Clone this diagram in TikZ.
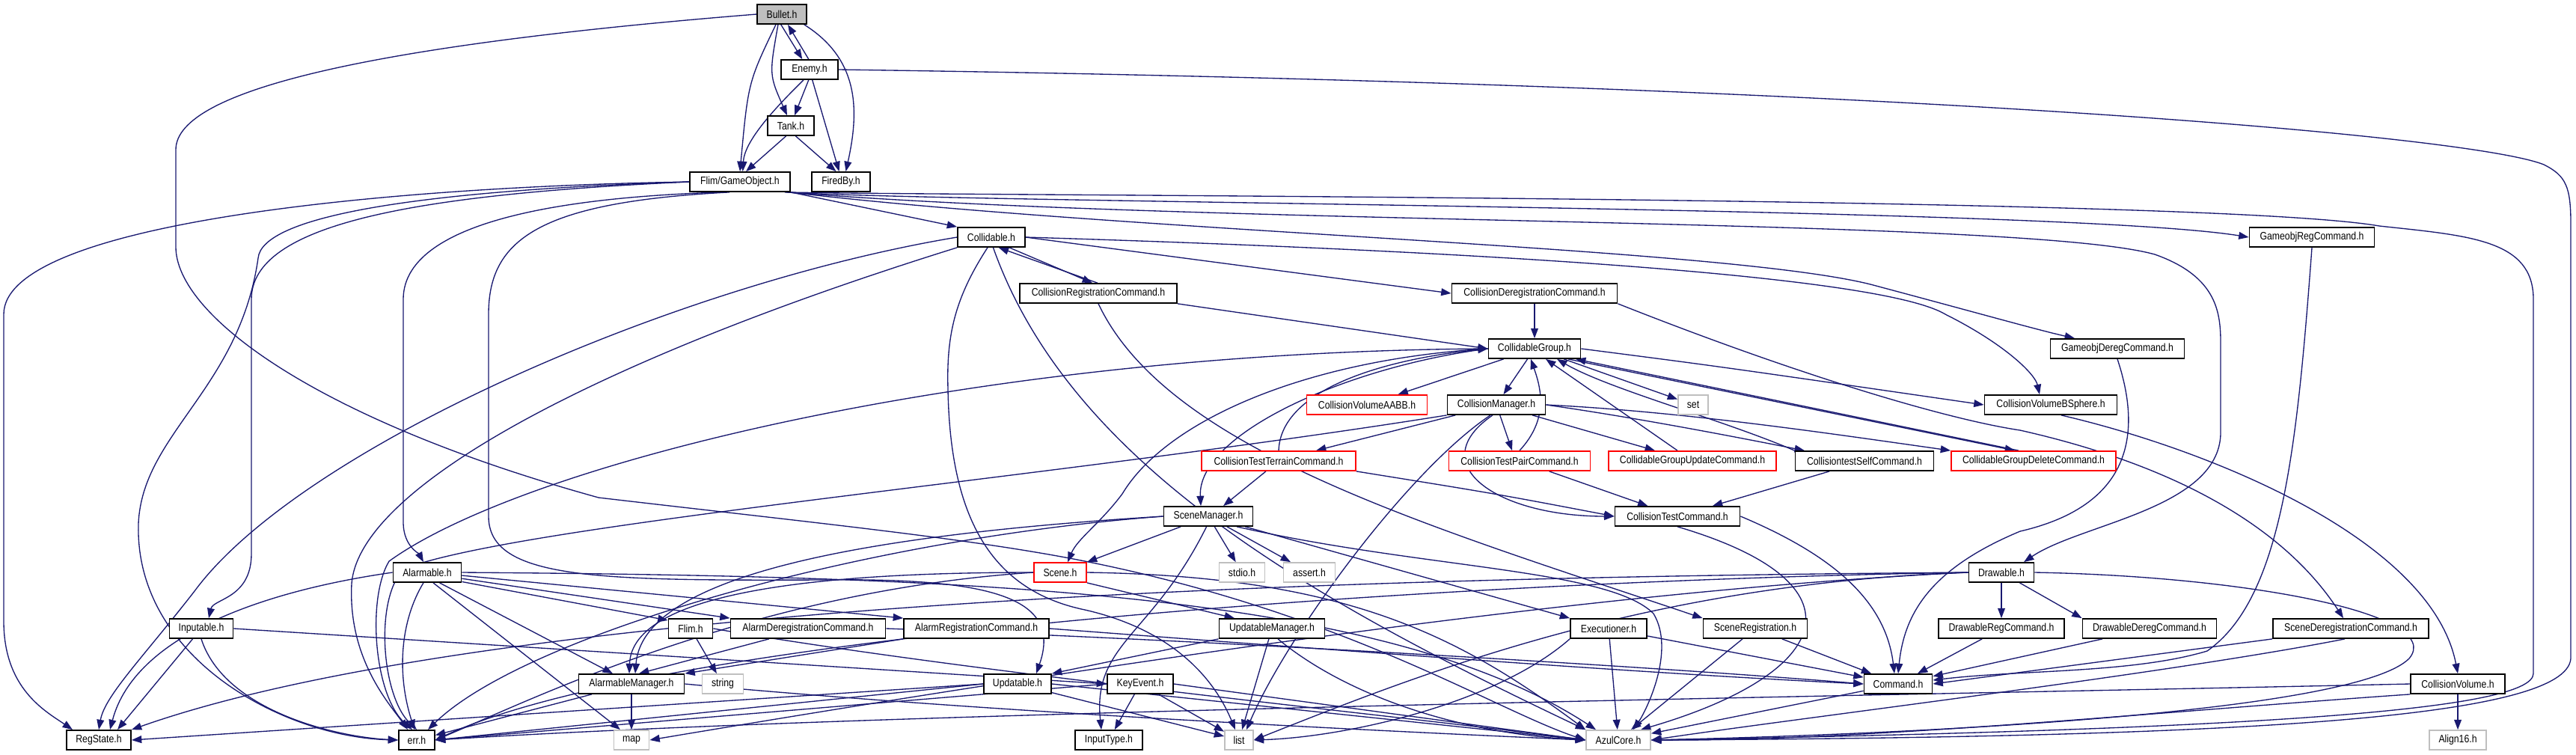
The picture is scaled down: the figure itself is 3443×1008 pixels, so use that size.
\documentclass[tikz,border=0pt]{standalone}
\usepackage{fontspec}
\setmainfont{Liberation Sans}[FakeStretch=0.85]
\usetikzlibrary{arrows.meta,backgrounds}
\definecolor{edgeblue}{HTML}{191970}
\definecolor{sysgray}{HTML}{BFBFBF}

\tikzset{
  hdr/.style={draw=black, fill=white, line width=0.5pt, minimum height=0.26cm,
    inner xsep=1pt, inner ysep=0pt, font=\fontsize{4.1}{5}\selectfont},
  hdrred/.style={hdr, draw=red},
  hdrsys/.style={hdr, draw=sysgray},
  hdrmain/.style={hdr, fill=sysgray},
  dep/.style={draw=edgeblue, line width=0.38pt, -{Triangle[length=3.8pt,width=2.8pt]}},
}

\begin{document}
\begin{tikzpicture}[x=0.01cm, y=-0.01cm]
\useasboundingbox (0,0) rectangle (3443,1008);

% headers, row by row
\node[hdrmain, minimum width=0.66cm] (bullet) at (1045,19) {Bullet.h};
\node[hdr, minimum width=0.76cm] (enemy) at (1082,93) {Enemy.h};
\node[hdr, minimum width=0.62cm] (tank) at (1057,168) {Tank.h};
\node[hdr, minimum width=1.34cm] (gameobj) at (989,243) {Flim/GameObject.h};
\node[hdr, minimum width=0.78cm] (firedby) at (1124,243) {FiredBy.h};
\node[hdr, minimum width=0.90cm] (collidable) at (1325,317) {Collidable.h};
\node[hdr, minimum width=1.67cm] (gameobjreg) at (3090,317) {GameobjRegCommand.h};
\node[hdr, minimum width=2.10cm] (collreg) at (1468,392) {CollisionRegistrationCommand.h};
\node[hdr, minimum width=2.21cm] (colldereg) at (2051,392) {CollisionDeregistrationCommand.h};
\node[hdr, minimum width=1.23cm] (collgroup) at (2051,466) {CollidableGroup.h};
\node[hdr, minimum width=1.79cm] (gameobjdereg) at (2830,466) {GameobjDeregCommand.h};
\node[hdrred, minimum width=1.61cm] (aabb) at (1827,541) {CollisionVolumeAABB.h};
\node[hdr, minimum width=1.31cm] (collmgr) at (2000,541) {CollisionManager.h};
\node[hdrsys, minimum width=0.40cm] (set) at (2263,541) {set};
\node[hdr, minimum width=1.77cm] (bsphere) at (2741,541) {CollisionVolumeBSphere.h};
\node[hdrred, minimum width=2.06cm] (terrain) at (1709,616) {CollisionTestTerrainCommand.h};
\node[hdrred, minimum width=1.89cm] (pair) at (2031,616) {CollisionTestPairCommand.h};
\node[hdrred, minimum width=2.24cm] (groupupd) at (2262,616) {CollidableGroupUpdateCommand.h};
\node[hdr, minimum width=1.85cm] (testself) at (2492,616) {CollisiontestSelfCommand.h};
\node[hdrred, minimum width=2.20cm] (groupdel) at (2718,616) {CollidableGroupDeleteCommand.h};
\node[hdr, minimum width=1.19cm] (scenemgr) at (1615,690) {SceneManager.h};
\node[hdr, minimum width=1.67cm] (colltest) at (2242,690) {CollisionTestCommand.h};
\node[hdr, minimum width=0.91cm] (alarmable) at (571,765) {Alarmable.h};
\node[hdrred, minimum width=0.70cm] (scene) at (1417,765) {Scene.h};
\node[hdrsys, minimum width=0.61cm] (stdio) at (1660,765) {stdio.h};
\node[hdrsys, minimum width=0.69cm] (assert) at (1750,765) {assert.h};
\node[hdr, minimum width=0.87cm] (drawable) at (2675,765) {Drawable.h};
\node[hdr, minimum width=0.85cm] (inputable) at (269,840) {Inputable.h};
\node[hdr, minimum width=0.59cm] (flimh) at (923,840) {Flim.h};
\node[hdr, minimum width=2.07cm] (alarmdereg) at (1080,840) {AlarmDeregistrationCommand.h};
\node[hdr, minimum width=1.94cm] (alarmreg) at (1305,840) {AlarmRegistrationCommand.h};
\node[hdr, minimum width=1.41cm] (updmgr) at (1700,840) {UpdatableManager.h};
\node[hdr, minimum width=1.02cm] (executioner) at (2150,840) {Executioner.h};
\node[hdr, minimum width=1.39cm] (scenereg) at (2346,840) {SceneRegistration.h};
\node[hdr, minimum width=1.68cm] (drawreg) at (2675,840) {DrawableRegCommand.h};
\node[hdr, minimum width=1.79cm] (drawdereg) at (2873,840) {DrawableDeregCommand.h};
\node[hdr, minimum width=2.08cm] (scenedereg) at (3142,840) {SceneDeregistrationCommand.h};
\node[hdr, minimum width=1.41cm] (alarmmgr) at (844,914) {AlarmableManager.h};
\node[hdrsys, minimum width=0.55cm] (string) at (966,914) {string};
\node[hdr, minimum width=0.90cm] (updatable) at (1360,914) {Updatable.h};
\node[hdr, minimum width=0.88cm] (keyevent) at (1524,914) {KeyEvent.h};
\node[hdr, minimum width=0.91cm] (command) at (2537,914) {Command.h};
\node[hdr, minimum width=1.26cm] (collvol) at (3285,914) {CollisionVolume.h};
\node[hdr, minimum width=0.86cm] (regstate) at (132,989) {RegState.h};
\node[hdr, minimum width=0.48cm] (err) at (557,989) {err.h};
\node[hdrsys, minimum width=0.47cm] (map) at (844,989) {map};
\node[hdr, minimum width=0.90cm] (inputtype) at (1482,989) {InputType.h};
\node[hdrsys, minimum width=0.38cm] (list) at (1656,989) {list};
\node[hdrsys, minimum width=0.86cm] (azulcore) at (2163,989) {AzulCore.h};
\node[hdrsys, minimum width=0.76cm] (align) at (3285,989) {Align16.h};

\begin{scope}[on background layer]
% Bullet, Enemy, Tank
\draw[dep] (bullet.-95) -- (enemy.125);
\draw[dep] (enemy.95) -- (bullet.-60);
\draw[dep] (bullet.-110) .. controls (1028,100) .. (tank.110);
\draw[dep] (bullet.-120) .. controls (1000,110) .. (gameobj.north);
\draw[dep] (bullet.-25) .. controls (1150,80) and (1148,150) .. (firedby.65);
\draw[dep] (bullet.west) .. controls (500,60) and (235,120) .. (235,200) -- (235,330)
  .. controls (235,420) and (420,560) .. (800,665) .. controls (1100,700) and (1300,720) .. (1450,750)
  .. controls (1800,820) and (2000,950) .. (azulcore.west);
\draw[dep] (enemy.-95) -- (tank.70);
\draw[dep] (enemy.-120) .. controls (1030,150) and (995,190) .. (gameobj.75);
\draw[dep] (enemy.-75) -- (firedby.100);
\draw[dep] (enemy.east) .. controls (2500,112) and (3300,180) .. (3400,220) .. controls (3430,235) and (3436,250) .. (3436,300)
  -- (3436,880) .. controls (3430,960) and (3000,985) .. (azulcore.east);
\draw[dep] (tank.-115) -- (gameobj.60);
\draw[dep] (tank.-65) -- (firedby.115);

% Flim/GameObject.h
\draw[dep] (gameobj.west) .. controls (500,250) and (5,300) .. (5,420) -- (5,830)
  .. controls (5,920) and (60,950) .. ([xshift=-0.35cm]regstate.north);
\draw[dep] (gameobj.west) .. controls (550,255) and (350,290) .. (345,345)
  .. controls (320,520) and (190,580) .. (185,700) .. controls (180,880) and (380,985) .. (err.west);
\draw[dep] (gameobj.west) .. controls (550,260) and (336,300) .. (336,400) -- (336,740)
  .. controls (336,800) and (285,800) .. ([xshift=0.1cm]inputable.north);
\draw[dep] (gameobj.210) .. controls (700,265) and (539,310) .. (539,400) -- (539,700)
  .. controls (540,730) and (560,740) .. ([xshift=-0.05cm]alarmable.north);
\draw[dep] (gameobj.225) .. controls (720,270) and (653,320) .. (653,420) -- (653,690)
  .. controls (653,775) and (800,776) .. (1100,775) .. controls (1330,772) and (1420,800) .. ([xshift=0.25cm]updatable.north);
\draw[dep] (gameobj.south east) -- (collidable.north west);
\draw[dep] ([xshift=-0.08cm]gameobj.south east) .. controls (1300,262) and (2950,262) .. (3180,302) .. controls (3300,315) and (3386,320) .. (3386,400)
  -- (3386,900) .. controls (3386,950) and (3000,975) .. (azulcore.east);
\draw[dep] ([xshift=-0.06cm]gameobj.south east) .. controls (1300,272) and (2750,276) .. (gameobjreg.west);
\draw[dep] ([xshift=-0.04cm]gameobj.south east) .. controls (1600,302) and (2700,290) .. (2880,340) .. controls (2965,370) and (2968,420) .. (2968,460)
  -- (2968,580) .. controls (2965,680) and (2780,700) .. ([xshift=0.3cm]drawable.north);
\draw[dep] ([xshift=-0.02cm]gameobj.south east) .. controls (1500,310) and (2300,330) .. (2500,380)
  .. controls (2650,420) and (2720,440) .. ([xshift=-0.57cm]gameobjdereg.north);

% Collidable.h and its commands
\draw[dep] (collidable.west) .. controls (900,380) and (400,600) .. (260,790) .. controls (190,880) and (140,930) .. (regstate.north);
\draw[dep] (collidable.south west) .. controls (800,480) and (480,650) .. (470,780) .. controls (465,880) and (520,940) .. ([xshift=-0.12cm]err.north);
\draw[dep] (collidable.-30) -- (collreg.120);
\draw[dep] (collreg.95) -- (collidable.-55);
\draw[dep] (collidable.east) -- (colldereg.west);
\draw[dep] (collidable.east) .. controls (1800,330) and (2500,360) .. (2600,420) .. controls (2680,460) and (2720,500) .. ([xshift=-0.15cm]bsphere.north);
\draw[dep] (collidable.-110) .. controls (1275,400) and (1265,450) .. (1267,520) .. controls (1270,700) and (1330,790) .. (1450,815)
  .. controls (1560,840) and (1620,900) .. ([xshift=-0.05cm]list.north);
\draw[dep] (collidable.-80) .. controls (1430,620) and (1750,800) .. (azulcore.north west);
\draw[dep] (collreg.south east) -- (collgroup.west);
\draw[dep] (collreg.south) .. controls (1560,600) and (1900,700) .. (scenereg.north west);
\draw[dep] (colldereg) -- (collgroup);
\draw[dep] (colldereg.south east) .. controls (2400,500) and (2600,560) .. (2700,575) .. controls (2900,620) and (3050,700) .. ([xshift=-0.1cm]scenedereg.north);

% CollidableGroup.h
\draw[dep] (collgroup) -- (aabb);
\draw[dep] (collgroup) -- (collmgr);
\draw[dep] (collgroup) -- (set);
\draw[dep] (collgroup.east) .. controls (2300,490) .. (bsphere.west);
\draw[dep] ([xshift=0.45cm]collgroup.south) -- ([xshift=-0.25cm]groupdel.north);
\draw[dep] ([xshift=-0.2cm]groupdel.north) -- ([xshift=0.55cm]collgroup.south);
\draw[dep] (collgroup.west) .. controls (1300,470) and (700,620) .. (520,750) .. controls (490,800) and (500,930) .. ([xshift=-0.06cm]err.north);
\draw[dep] (collgroup.west) .. controls (1750,480) and (1560,560) .. (1500,660) .. controls (1470,700) and (1440,720) .. ([xshift=0.1cm]scene.north);
\draw[dep] (collgroup.west) .. controls (1800,490) and (1600,580) .. ([xshift=-0.1cm]scenemgr.north);

% CollisionManager.h and the test commands
\draw[dep] (collmgr) -- ([xshift=0.5cm]terrain.north);
\draw[dep] (collmgr) -- ([xshift=-0.1cm]pair.north);
\draw[dep] (collmgr) -- ([xshift=-0.5cm]groupupd.north);
\draw[dep] (collmgr.east) .. controls (2200,560) and (2350,590) .. ([xshift=-0.8cm]testself.north);
\draw[dep] (collmgr.east) .. controls (2250,550) and (2450,580) .. (groupdel.north west);
\draw[dep] (collmgr.-110) .. controls (1900,620) and (2000,690) .. (colltest.west);
\draw[dep] (collmgr.-120) .. controls (1880,630) and (1720,850) .. ([xshift=0.1cm]list.north);
\draw[dep] (collmgr.south west) .. controls (1400,640) and (700,700) .. (540,760) .. controls (500,800) and (510,930) .. (err.north);
\draw[dep] (terrain.north) .. controls (1712,520) and (1850,480) .. (collgroup.west);
\draw[dep] (terrain) -- ([xshift=0.2cm]scenemgr.north);
\draw[dep] (terrain.south east) .. controls (2000,660) .. (colltest.west);
\draw[dep] (pair.north) .. controls (2070,560) and (2060,520) .. ([xshift=-0.05cm]collgroup.south);
\draw[dep] (pair) -- (colltest);
\draw[dep] (groupupd) -- ([xshift=0.15cm]collgroup.south);
\draw[dep] (testself.north west) .. controls (2300,560) and (2150,520) .. ([xshift=0.3cm]collgroup.south);
\draw[dep] (testself) -- (colltest);
\draw[dep] (colltest.east) .. controls (2445,740) and (2520,800) .. ([xshift=-0.05cm]command.north);
\draw[dep] (colltest.south) .. controls (2500,780) and (2450,900) .. ([xshift=0.3cm]azulcore.north);

% SceneManager.h and Scene.h
\draw[dep] (scenemgr) -- (scene.north east);
\draw[dep] (scenemgr) -- (stdio);
\draw[dep] (scenemgr) -- (assert);
\draw[dep] (scenemgr) -- (executioner.north west);
\draw[dep] (scenemgr.west) .. controls (1200,712) and (860,760) .. ([xshift=0.05cm]alarmmgr.north);
\draw[dep] (scenemgr.west) .. controls (1150,720) and (700,850) .. ([xshift=0.15cm]err.north);
\draw[dep] (scenemgr.-100) .. controls (1540,850) and (1460,860) .. ([xshift=-0.1cm]inputtype.north);
\draw[dep] (scenemgr.-20) .. controls (1900,760) and (2150,760) .. (2210,820) .. controls (2240,870) and (2200,950) .. ([xshift=0.2cm]azulcore.north);
\draw[dep] (scene.west) .. controls (1100,765) and (845,790) .. ([xshift=-0.03cm]alarmmgr.north);
\draw[dep] (scene.south east) -- ([xshift=-0.5cm]updmgr.north);
\draw[dep] (scene.east) .. controls (1800,770) and (1950,850) .. (azulcore.north west);
\draw[dep] (scene.west) .. controls (1000,790) and (700,940) .. (err.east);

% Alarmable.h and friends
\draw[dep] (alarmable.west) .. controls (350,790) and (180,850) .. ([xshift=0.15cm]regstate.north);
\draw[dep] (alarmable.-110) .. controls (535,830) and (530,900) .. ([xshift=-0.03cm]err.north);
\draw[dep] (alarmable.-60) -- ([xshift=-0.15cm]map.north);
\draw[dep] (alarmable.-40) -- ([xshift=-0.25cm]alarmmgr.north);
\draw[dep] (alarmable.-15) -- (flimh.160);
\draw[dep] (alarmable.-10) -- (alarmdereg.north west);
\draw[dep] (alarmable.-5) -- (alarmreg.north west);
\draw[dep] (alarmable.east) .. controls (1300,770) and (1850,790) .. ([xshift=-0.3cm]azulcore.north);
\draw[dep] (flimh) -- (string);
\draw[dep] (flimh.east) .. controls (1300,900) and (1900,960) .. (azulcore.west);
\draw[dep] (alarmdereg) -- ([xshift=0.1cm]alarmmgr.north);
\draw[dep] (alarmdereg.east) .. controls (1600,855) and (2200,890) .. (command.west);
\draw[dep] (alarmreg.south west) -- (alarmmgr.north east);
\draw[dep] (alarmreg.east) .. controls (1800,870) and (2200,900) .. (command.west);
\draw[dep] (alarmmgr) -- (map);
\draw[dep] (alarmmgr) -- (err);
\draw[dep] (alarmmgr.east) .. controls (1300,950) and (1800,975) .. (azulcore.west);

% Inputable.h, Updatable.h, KeyEvent.h
\draw[dep] (inputable) -- ([xshift=0.25cm]regstate.north);
\draw[dep] (inputable.south) .. controls (300,950) and (450,985) .. (err.west);
\draw[dep] (inputable.east) -- (keyevent.west);
\draw[dep] (updmgr.south west) -- (updatable.north east);
\draw[dep] (updmgr) -- (list);
\draw[dep] (updmgr.-60) .. controls (1800,930) and (1950,980) .. (azulcore.west);
\draw[dep] (updatable.west) -- (regstate.east);
\draw[dep] (updatable.west) -- (err.east);
\draw[dep] (updatable) -- (list);
\draw[dep] (updatable.east) -- (azulcore.west);
\draw[dep] (keyevent) -- (inputtype);
\draw[dep] (keyevent) -- (list);
\draw[dep] (keyevent.east) -- (azulcore.west);
\draw[dep] (keyevent.west) -- (err.east);

% Drawable.h, commands and the rest
\draw[dep] (drawable) -- (drawreg);
\draw[dep] (drawable) -- (drawdereg.north west);
\draw[dep] (drawable.east) .. controls (3000,770) and (3270,820) .. (3220,880) .. controls (3150,950) and (2600,980) .. (azulcore.east);
\draw[dep] (drawable.west) .. controls (2000,770) and (700,790) .. (regstate.north east);
\draw[dep] (drawable.west) .. controls (2000,775) and (900,840) .. (err.east);
\draw[dep] (drawable.west) .. controls (2200,780) and (1900,900) .. (list.east);
\draw[dep] (drawable.west) .. controls (2100,790) and (1400,900) .. (map.east);
\draw[dep] (executioner) -- (command);
\draw[dep] (executioner) -- (azulcore);
\draw[dep] (executioner.south west) .. controls (2000,940) and (1800,985) .. (list.east);
\draw[dep] (scenereg) -- (command);
\draw[dep] (scenereg) -- (azulcore);
\draw[dep] (drawreg) -- (command);
\draw[dep] (drawdereg) -- (command);
\draw[dep] (scenedereg.south west) -- (command.east);
\draw[dep] (scenedereg.-120) .. controls (2900,900) and (2400,960) .. (azulcore.east);
\draw[dep] (gameobjreg.south) .. controls (3070,600) and (3050,800) .. (2950,870) .. controls (2850,900) and (2700,895) .. ([yshift=0.05cm]command.east);
\draw[dep] (gameobjdereg.south) .. controls (2870,600) and (2830,680) .. (2700,710) .. controls (2580,760) and (2545,820) .. (command.north);
\draw[dep] (command) -- (azulcore);
\draw[dep] (bsphere.-45) .. controls (2950,600) and (3250,720) .. (collvol.north);
\draw[dep] (collvol) -- (align);
\draw[dep] (collvol.south west) .. controls (2900,950) and (2500,990) .. (azulcore.east);
\draw[dep] (collvol.west) .. controls (2500,930) and (1200,950) .. (err.east);
\end{scope}
\end{tikzpicture}
\end{document}
